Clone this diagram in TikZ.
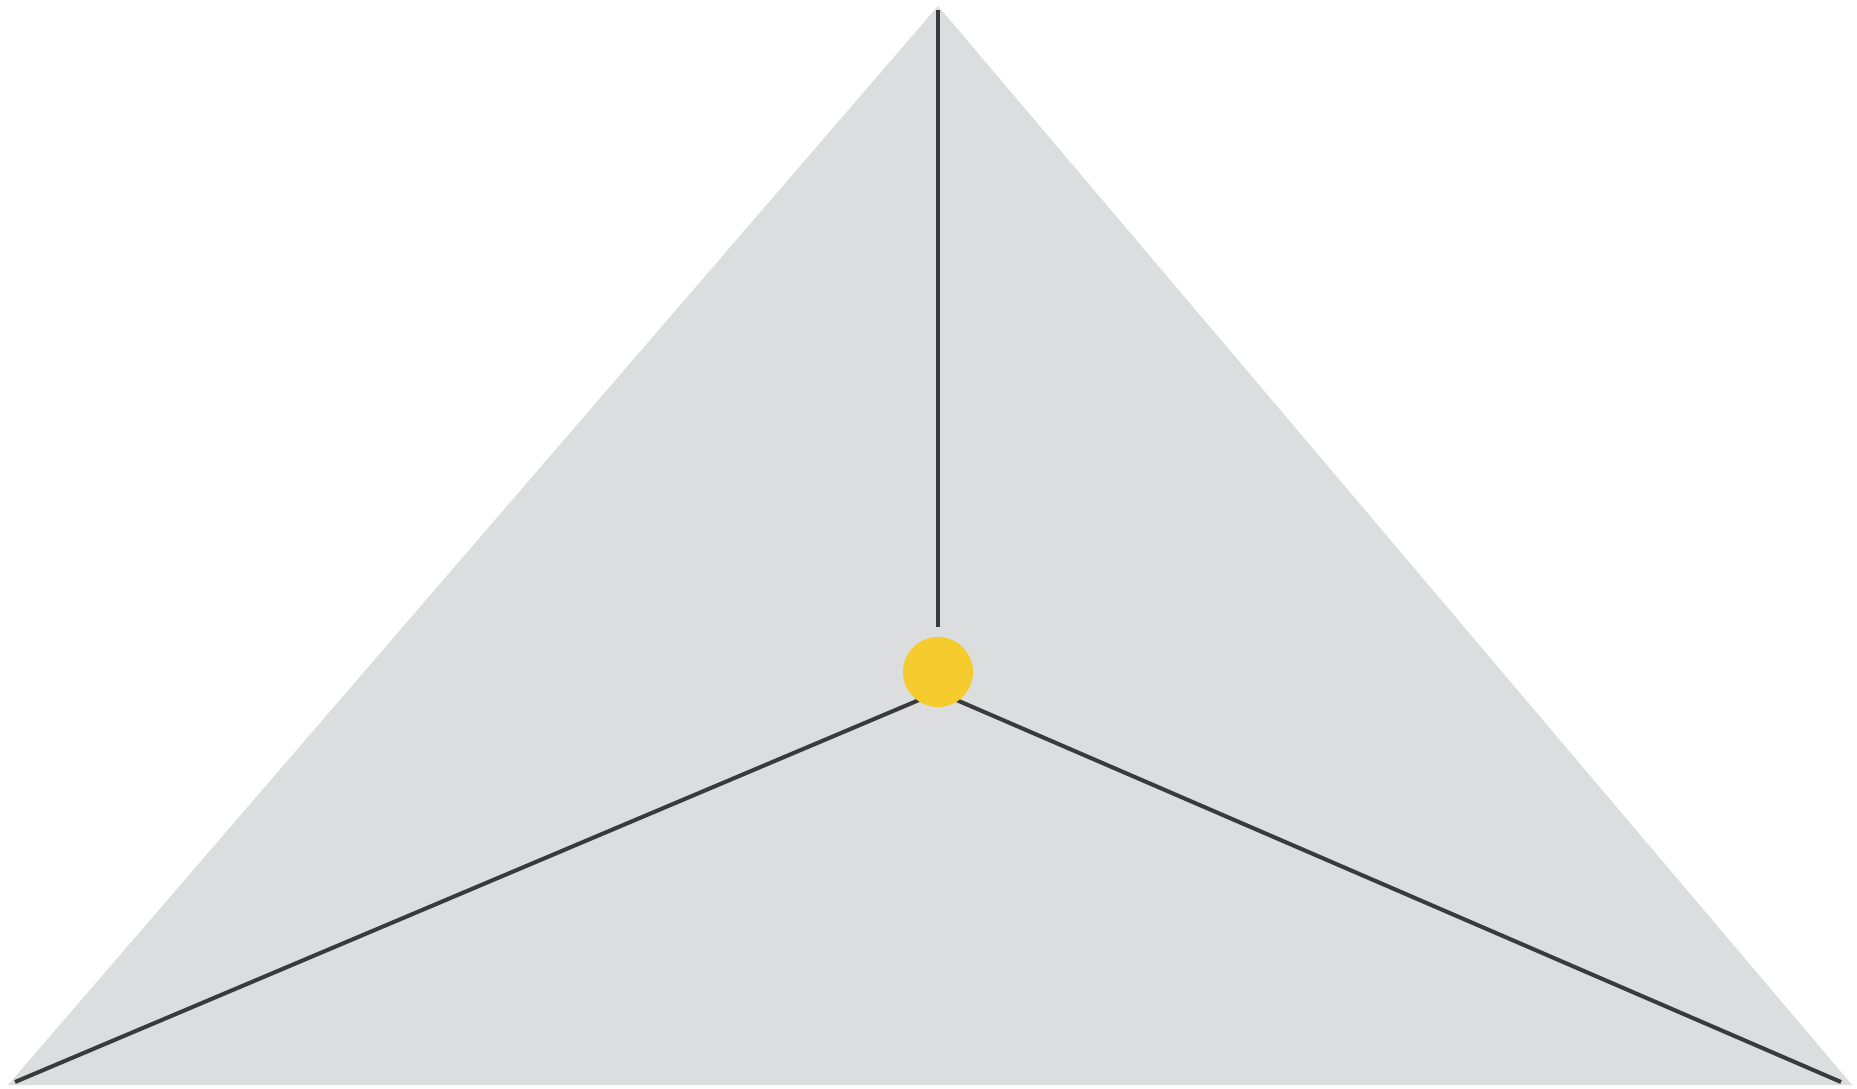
\documentclass[tikz,border=0pt]{standalone}
\definecolor{trigray}{HTML}{DCDDDF}
\definecolor{spoke}{HTML}{3A3A3A}
\definecolor{dotyellow}{HTML}{F5CB2E}
\tikzset{
  spokeline/.style={draw=spoke, line width=4pt},
  hub/.style={circle, fill=dotyellow, minimum size=70pt, inner sep=0pt}
}
\begin{document}
\begin{tikzpicture}[x=1pt,y=-1pt]
\useasboundingbox[fill=white] (0,0) rectangle (1857,1089);
\coordinate (top) at (938,6);
\coordinate (bl) at (8,1085);
\coordinate (br) at (1852,1085);
\fill[trigray] (top) -- (br) -- (bl) -- cycle;
\coordinate (topend) at (938,10);
\coordinate (topstop) at (938,627);
\coordinate (base) at (938,692);
\coordinate (blend) at (15,1082);
\coordinate (brend) at (1841,1082);
\draw[spokeline] (topend) -- (topstop);
\draw[spokeline] (base) -- (blend);
\draw[spokeline] (base) -- (brend);
\node[hub] (c) at (938,672) {};
\end{tikzpicture}
\end{document}
